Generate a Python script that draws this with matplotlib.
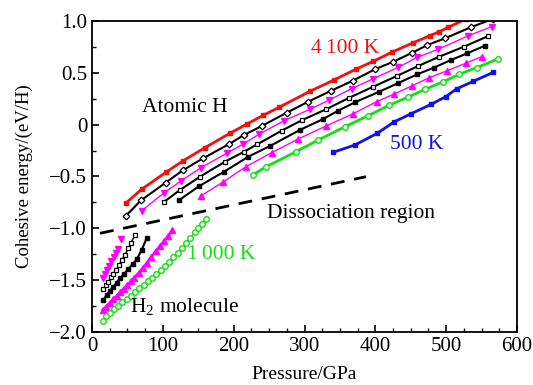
import matplotlib
matplotlib.use('Agg')
import matplotlib.pyplot as plt
from matplotlib.ticker import MultipleLocator

plt.rcParams['font.family'] = ['Liberation Serif', 'DejaVu Serif']
plt.rcParams['mathtext.fontset'] = 'custom'
plt.rcParams['mathtext.rm'] = 'Liberation Serif'
plt.rcParams['mathtext.it'] = 'Liberation Serif'

# ---- atomic H branch ----
p_red = [47.6, 70.2, 104.5, 128.9, 159.5, 194.8, 218.4, 241.8, 264.4, 307.8,
         341.6, 372.3, 397.1, 423.1, 453.6, 477.2, 490.3, 503.0, 528.0]
e_red = [-0.758, -0.623, -0.459, -0.348, -0.222, -0.083, 0.005, 0.090, 0.168, 0.322,
         0.431, 0.534, 0.611, 0.698, 0.791, 0.858, 0.897, 0.939, 1.02]

p_dia = [47.6, 69.2, 104.0, 128.9, 157.1, 193.8, 214.6, 239.6, 274.9, 304.5,
         337.0, 368.0, 399.5, 425.4, 452.2, 473.4, 498.4, 534.6, 566.0]
e_dia = [-0.881, -0.730, -0.560, -0.437, -0.324, -0.186, -0.100, -0.013, 0.115, 0.219,
         0.325, 0.424, 0.534, 0.607, 0.694, 0.768, 0.833, 0.939, 1.02]

p_mdn = [70.2, 102.1, 125.6, 153.9, 190.2, 213.6, 235.8, 271.1, 307.8, 335.0,
         366.6, 397.1, 432.4, 459.3, 488.9, 530.4, 564.3]
e_mdn = [-0.830, -0.656, -0.543, -0.415, -0.276, -0.186, -0.093, 0.038, 0.148, 0.238,
         0.347, 0.443, 0.553, 0.650, 0.727, 0.855, 0.945]

p_osq = [102.1, 124.2, 152.5, 187.8, 214.6, 233.4, 267.8, 296.9, 330.4, 363.3,
         397.1, 430.2, 460.7, 490.3, 525.2, 559.5]
e_osq = [-0.743, -0.630, -0.502, -0.357, -0.261, -0.189, -0.058, 0.045, 0.148, 0.260,
         0.366, 0.469, 0.566, 0.656, 0.752, 0.855]

p_fsq = [123.2, 151.5, 186.4, 220.7, 251.3, 293.6, 325.7, 347.7, 371.3, 405.6,
         431.6, 459.3, 482.8, 506.8, 529.8, 554.8]
e_fsq = [-0.727, -0.592, -0.454, -0.309, -0.206, -0.051, 0.052, 0.135, 0.216, 0.318,
         0.399, 0.486, 0.550, 0.624, 0.688, 0.762]

p_mup = [153.5, 184.5, 217.4, 253.7, 291.2, 330.4, 368.0, 401.9, 426.8, 451.3,
         476.2, 501.6, 527.6, 550.2]
e_mup = [-0.688, -0.556, -0.405, -0.270, -0.138, -0.013, 0.103, 0.222, 0.296, 0.373,
         0.453, 0.521, 0.592, 0.656]

p_grn = [226.6, 246.1, 288.0, 319.5, 357.2, 390.1, 419.3, 445.7, 470.1, 496.0,
         518.6, 543.1, 572.8]
e_grn = [-0.486, -0.405, -0.261, -0.148, -0.020, 0.087, 0.187, 0.264, 0.341, 0.414,
         0.486, 0.550, 0.633]

p_blu = [339.8, 371.3, 402.8, 426.8, 450.8, 479.0, 499.5, 514.9, 538.3, 566.6]
e_blu = [-0.268, -0.196, -0.083, 0.028, 0.106, 0.197, 0.270, 0.346, 0.418, 0.505]

# ---- H2 molecule branch ----
p_h2_mdn = [15.5, 18.5, 21.5, 24.5, 27.5, 30.5, 33.5, 36.5, 41.0]
e_h2_mdn = [-1.48, -1.44, -1.40, -1.36, -1.32, -1.28, -1.24, -1.20, -1.10]

p_h2_osq = [16.0, 19.8, 23.1, 26.8, 30.1, 33.9, 38.6, 41.9, 46.6, 51.3, 55.1, 60.7]
e_h2_osq = [-1.588, -1.547, -1.515, -1.473, -1.440, -1.402, -1.354, -1.305,
            -1.257, -1.193, -1.139, -1.064]

p_h2_fsq = [16.0, 20.7, 25.4, 30.1, 34.8, 39.5, 45.2, 51.3, 57.4, 63.1, 70.1, 77.2]
e_h2_fsq = [-1.691, -1.643, -1.601, -1.563, -1.524, -1.482, -1.440, -1.395,
            -1.344, -1.299, -1.209, -1.096]

p_h2_mup = [15, 20, 25, 30, 35, 40, 45, 50, 55, 60, 66, 72, 78, 84, 90, 96, 102, 108, 113]
e_h2_mup = [-1.79, -1.755, -1.72, -1.686, -1.651, -1.616, -1.581, -1.546, -1.511, -1.475,
            -1.43, -1.38, -1.33, -1.275, -1.22, -1.17, -1.12, -1.07, -1.02]

p_h2_grn = [15, 20, 25, 31, 37, 43, 49, 55, 61, 67, 73, 79, 85, 91, 97, 103, 109,
            115, 121, 127, 133, 139, 145, 150, 155, 161]
e_h2_grn = [-1.89, -1.85, -1.815, -1.78, -1.745, -1.715, -1.684, -1.65, -1.615, -1.58,
            -1.545, -1.51, -1.475, -1.44, -1.405, -1.365, -1.325, -1.28, -1.235, -1.19,
            -1.14, -1.09, -1.04, -1.00, -0.96, -0.913]

# dissociation boundary
p_dis = [11.3, 386.8]
e_dis = [-1.048, -0.502]

RED = '#f01010'
MAG = '#ff00ff'
GRN = '#10e010'
BLU = '#1010e8'

fig = plt.figure(figsize=(5.33, 3.85), dpi=100)
ax = fig.add_axes([0.1726, 0.1377, 0.7974, 0.8078])

ms = 3.4
ax.plot(p_red, e_red, '-s', color=RED, lw=2.0, ms=ms)
ax.plot(p_dia, e_dia, '-D', color='k', lw=1.5, ms=ms, mfc='white', mew=0.9)
ax.plot(p_mdn, e_mdn, '-v', color=MAG, lw=1.0, ms=ms + 0.4)
ax.plot(p_osq, e_osq, '-s', color='k', lw=1.5, ms=ms, mfc='white', mew=0.9)
ax.plot(p_fsq, e_fsq, '-s', color='k', lw=1.5, ms=ms)
ax.plot(p_mup, e_mup, '-^', color=MAG, lw=1.0, ms=ms + 0.4)
ax.plot(p_grn, e_grn, '-o', color=GRN, lw=2.0, ms=ms + 0.6, mfc='white', mew=1.0)
ax.plot(p_blu, e_blu, '-s', color=BLU, lw=2.0, ms=ms)

ax.plot(p_h2_mdn, e_h2_mdn, 'v', color=MAG, ms=ms + 0.8)
ax.plot(p_h2_osq, e_h2_osq, '-s', color='k', lw=1.0, ms=ms, mfc='white', mew=0.9)
ax.plot(p_h2_fsq, e_h2_fsq, '-s', color='k', lw=1.5, ms=ms)
ax.plot(p_h2_mup, e_h2_mup, '-^', color=MAG, lw=2.0, ms=ms + 0.4)
ax.plot(p_h2_grn, e_h2_grn, '-o', color=GRN, lw=1.0, ms=ms + 0.6, mfc='white', mew=1.0)

ax.plot(p_dis, e_dis, '--', color='k', lw=2.0, dashes=(5, 3.5))

fs = 15.5
ax.text(357, 0.694, '4\u2009100 K', color=RED, fontsize=fs, ha='center', va='baseline')
ax.text(131, 0.125, 'Atomic H', color='k', fontsize=fs, ha='center', va='baseline')
ax.text(459, -0.235, '500 K', color=BLU, fontsize=fs, ha='center', va='baseline')
ax.text(365, -0.905, 'Dissociation region', color='k', fontsize=fs, ha='center', va='baseline')
ax.text(183, -1.30, '1\u2009000 K', color=GRN, fontsize=fs, ha='center', va='baseline')
ax.text(131, -1.805, 'H$_2$ molecule', color='k', fontsize=fs, ha='center', va='baseline')

ax.set_xlim(0, 600)
ax.set_ylim(-2.0, 1.0)
ax.xaxis.set_major_locator(MultipleLocator(100))
ax.xaxis.set_minor_locator(MultipleLocator(25))
ax.yaxis.set_major_locator(MultipleLocator(0.5))
ax.yaxis.set_minor_locator(MultipleLocator(0.25))
ax.set_yticks([-2.0, -1.5, -1.0, -0.5, 0, 0.5, 1.0])
ax.set_yticklabels(['\u22122.0', '\u22121.5', '\u22121.0', '\u22120.5', '0', '0.5', '1.0'])
ax.tick_params(which='both', direction='in', top=False, right=False, labelsize=15)
ax.tick_params(which='major', length=5, width=1.2)
ax.tick_params(which='minor', length=3, width=1.0)
for s in ax.spines.values():
    s.set_linewidth(1.3)

ax.set_xlabel('Pressure/GPa', fontsize=14, labelpad=7)
ax.set_ylabel('Cohesive energy/(eV/H)', fontsize=13.5, labelpad=12)

fig.savefig('out.png', dpi=100)
